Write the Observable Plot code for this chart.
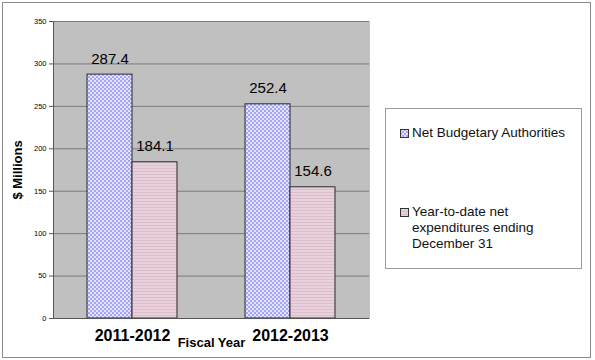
<!DOCTYPE html>
<html>
<head>
<meta charset="utf-8">
<script src="https://cdn.jsdelivr.net/npm/d3@7"></script>
<script src="https://cdn.jsdelivr.net/npm/@observablehq/plot@0.6"></script>
<style>
  html, body { margin: 0; padding: 0; background: #fff; }
  #wrap { position: relative; width: 595px; height: 360px; font-family: "Liberation Sans", Arial, sans-serif; }
  #border { position: absolute; left: 2px; top: 2px; width: 587px; height: 354px; border: 1px solid #8a8a8a; pointer-events: none; }
  #legend { position: absolute; left: 385px; top: 108px; width: 195px; height: 159px; border: 1px solid #9a9a9a; background: #fff; }
  .item { position: absolute; left: 14px; display: flex; align-items: flex-start; font-size: 13.5px; line-height: 16px; color: #111; }
  .item svg { flex: none; margin-top: 4px; margin-right: 3px; }
  svg text { font-family: "Liberation Sans", Arial, sans-serif; }
  g[aria-label="y-axis label"] text, g[aria-label="fx-axis label"] text { font-weight: bold; font-size: 13px; }
</style>
</head>
<body>
<div id="wrap"><div id="chart"></div><div id="legend"></div><div id="border"></div></div>
<script>
const years = ["2011-2012", "2012-2013"];
const seriesNames = ["Net Budgetary Authorities", "Year-to-date net expenditures ending December 31"];
const netBudgetary = [287.4, 252.4];
const yearToDate = [184.1, 154.6];
const yTicks = [0, 50, 100, 150, 200, 250, 300, 350];
const seriesFills = ["url(#pBlue)", "url(#pPink)"];

const rows = [];
years.forEach((yr, i) => {
  rows.push({year: yr, series: seriesNames[0], value: netBudgetary[i]});
  rows.push({year: yr, series: seriesNames[1], value: yearToDate[i]});
});

const svg = Plot.plot({
  width: 595,
  height: 360,
  marginLeft: 53,
  marginRight: 226,
  marginTop: 21,
  marginBottom: 42,
  style: {background: "transparent", fontFamily: "Liberation Sans, Arial, sans-serif", color: "#000"},
  fx: {domain: years, padding: 0, round: false},
  x: {domain: seriesNames, paddingInner: 0, paddingOuter: 0.756, round: false, axis: null},
  y: {domain: [0, 350], axis: null},
  color: {domain: seriesNames, range: seriesFills},
  marks: [
    Plot.frame({fill: "#c0c0c0", stroke: "#c0c0c0"}),
    Plot.gridY(yTicks, {stroke: "#7a7a7a", strokeOpacity: 1, strokeWidth: 1}),
    Plot.barY(rows, {fx: "year", x: "series", y: "value", fill: "series", stroke: "#2a2a2a", strokeWidth: 1}),
    Plot.text(rows, {fx: "year", x: "series", y: "value", text: d => d.value.toFixed(1), dy: -11, lineAnchor: "bottom", fontSize: 15, fill: "#000"}),
    Plot.ruleY([0], {stroke: "#555"}),
    Plot.frame({anchor: "left", stroke: "#555", facetAnchor: "left"}),
    Plot.axisY({ticks: yTicks, tickSize: 4, tickPadding: 3, fontSize: 7.5, stroke: "#555", label: "$ Millions", labelArrow: false, labelAnchor: "center", labelOffset: 41}),
    Plot.axisFx({anchor: "bottom", tickSize: 0, tickPadding: 11, fontSize: 16, fontWeight: "bold", label: "Fiscal Year", labelArrow: false, labelAnchor: "center", labelOffset: 28})
  ]
});

const ns = "http://www.w3.org/2000/svg";
const defs = document.createElementNS(ns, "defs");
defs.innerHTML = `
  <pattern id="pBlue" width="4" height="4" patternUnits="userSpaceOnUse">
    <rect width="4" height="4" fill="#e4e4fc"/>
    <rect width="2" height="2" fill="#a4a4fb"/>
    <rect x="2" y="2" width="2" height="2" fill="#a4a4fb"/>
  </pattern>
  <pattern id="pPink" width="4" height="3" patternUnits="userSpaceOnUse">
    <rect width="4" height="3" fill="#e8d0dc"/>
    <rect width="4" height="1" fill="#dcbecd"/>
  </pattern>`;
svg.insertBefore(defs, svg.firstChild);
document.getElementById("chart").appendChild(svg);

// legend
const legend = document.getElementById("legend");
const tops = [16, 95];
const labels = [["Net Budgetary Authorities"], ["Year-to-date net", "expenditures ending", "December 31"]];
seriesNames.forEach((s, i) => {
  const item = document.createElement("div");
  item.className = "item";
  item.style.top = tops[i] + "px";
  item.innerHTML = `<svg width="9" height="9"><defs>${defs.innerHTML.replace(/id="p/g, 'id="l' + i + 'p')}</defs><rect x="0.5" y="0.5" width="8" height="8" fill="${seriesFills[i].replace('#p', '#l' + i + 'p')}" stroke="#333"/></svg><div>${labels[i].join("<br>")}</div>`;
  legend.appendChild(item);
});
</script>
</body>
</html>
